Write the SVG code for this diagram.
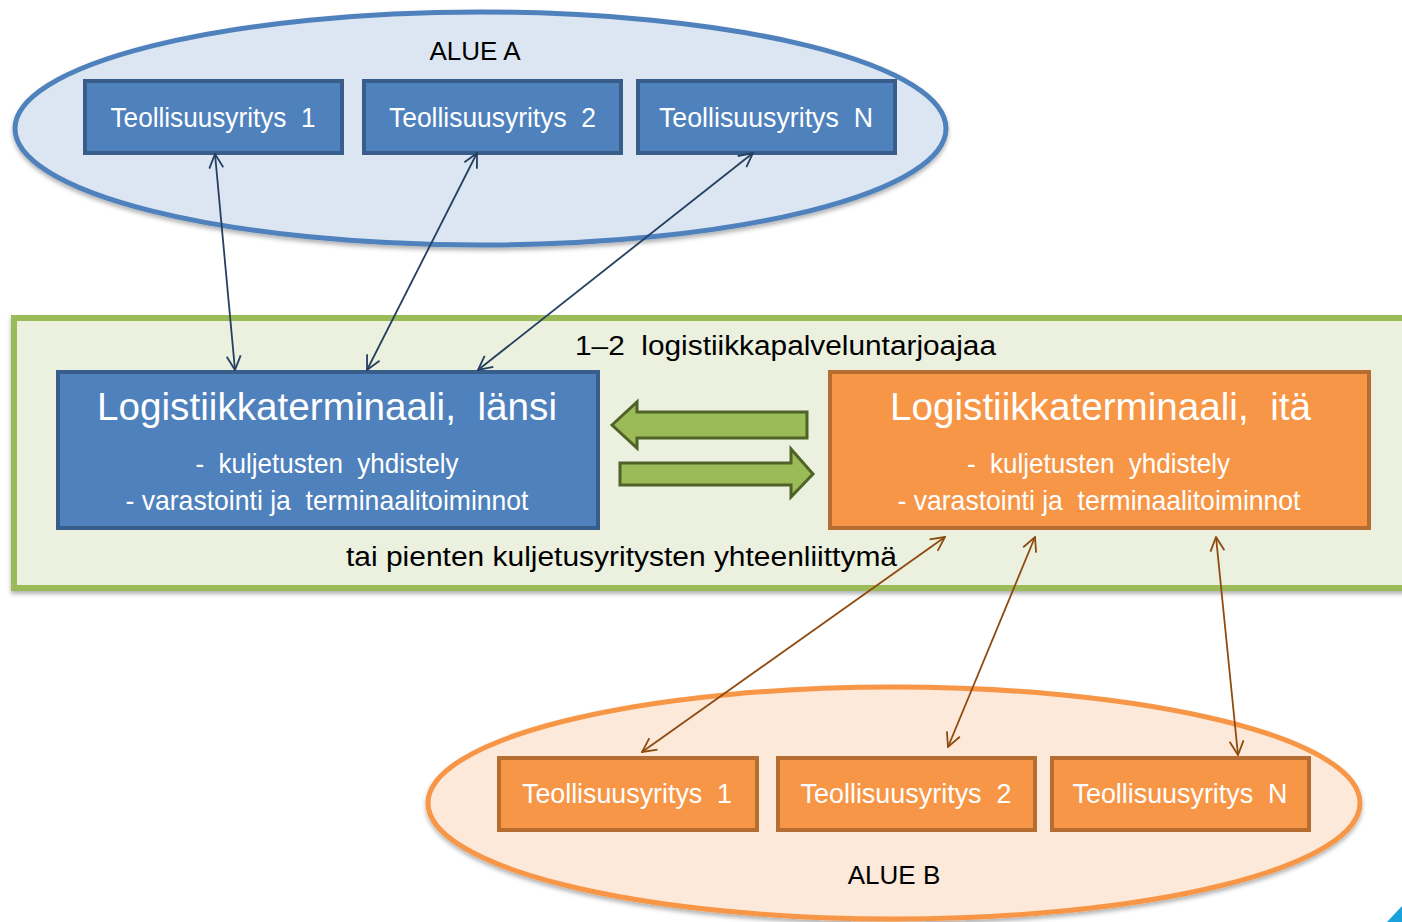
<svg xmlns="http://www.w3.org/2000/svg" width="1402" height="922" viewBox="0 0 1402 922">
<style>
text{font-family:"Liberation Sans",Arial,sans-serif;white-space:pre}
.dark{fill:#000}
.white{fill:#fff}
.bbox{fill:#4f81bd;stroke:#385d8a;stroke-width:4}
.obox{fill:#f79646;stroke:#b66d31;stroke-width:4}
.cA{stroke:#243f60;stroke-width:1.8;fill:none;marker-start:url(#mA);marker-end:url(#mA)}
.cB{stroke:#8e4b10;stroke-width:1.8;fill:none;marker-start:url(#mB);marker-end:url(#mB)}
.garrow{fill:#9bbb59;stroke:#4f6228;stroke-width:3;stroke-linejoin:miter}
</style>
<defs>
<filter id="sh" x="-5%" y="-5%" width="110%" height="115%">
<feDropShadow dx="0" dy="3" stdDeviation="2" flood-color="#000" flood-opacity="0.3"/>
</filter>
<marker id="mA" viewBox="0 0 16 16" refX="15" refY="8" markerWidth="16" markerHeight="16" markerUnits="userSpaceOnUse" orient="auto-start-reverse">
<path d="M1,1 L15,8 L1,15" fill="none" stroke="#243f60" stroke-width="1.8"/>
</marker>
<marker id="mB" viewBox="0 0 16 16" refX="15" refY="8" markerWidth="16" markerHeight="16" markerUnits="userSpaceOnUse" orient="auto-start-reverse">
<path d="M1,1 L15,8 L1,15" fill="none" stroke="#8e4b10" stroke-width="1.8"/>
</marker>
</defs>
<rect width="1402" height="922" fill="#fff"/>

<g id="alueA">
<ellipse cx="480.5" cy="128.5" rx="465.5" ry="116.5" fill="#dce6f2" stroke="#4f81bd" stroke-width="5" filter="url(#sh)"/>
<text x="475" y="60" font-size="26" text-anchor="middle" class="dark">ALUE A</text>
</g>

<g id="a1">
<rect x="85" y="81" width="257" height="72" class="bbox"/>
<text x="213" y="127" font-size="27" text-anchor="middle" class="white" textLength="205" lengthAdjust="spacingAndGlyphs">Teollisuusyritys  1</text>
</g>
<g id="a2">
<rect x="364" y="81" width="257" height="72" class="bbox"/>
<text x="492.5" y="127" font-size="27" text-anchor="middle" class="white" textLength="207" lengthAdjust="spacingAndGlyphs">Teollisuusyritys  2</text>
</g>
<g id="aN">
<rect x="638" y="81" width="257" height="72" class="bbox"/>
<text x="766" y="127" font-size="27" text-anchor="middle" class="white" textLength="214" lengthAdjust="spacingAndGlyphs">Teollisuusyritys  N</text>
</g>

<g id="provider">
<rect x="14" y="318" width="1400" height="270" fill="#ebf1de" stroke="#9bbb59" stroke-width="6" filter="url(#sh)"/>
<text x="575" y="355" font-size="27" class="dark" textLength="421" lengthAdjust="spacingAndGlyphs">1–2  logistiikkapalveluntarjoajaa</text>
<text x="346" y="566" font-size="27" class="dark" textLength="551" lengthAdjust="spacingAndGlyphs">tai pienten kuljetusyritysten yhteenliittymä</text>
</g>

<g id="lansi">
<rect x="58" y="372" width="540" height="156" class="bbox"/>
<text x="327" y="420" font-size="38" text-anchor="middle" class="white" textLength="460" lengthAdjust="spacingAndGlyphs">Logistiikkaterminaali,  länsi</text>
<text x="327" y="473" font-size="28" text-anchor="middle" class="white" textLength="263" lengthAdjust="spacingAndGlyphs">-  kuljetusten  yhdistely</text>
<text x="327" y="510" font-size="28" text-anchor="middle" class="white" textLength="403" lengthAdjust="spacingAndGlyphs">- varastointi ja  terminaalitoiminnot</text>
</g>

<g id="ita">
<rect x="830" y="372" width="539" height="156" class="obox"/>
<text x="1100.5" y="420" font-size="38" text-anchor="middle" class="white" textLength="421" lengthAdjust="spacingAndGlyphs">Logistiikkaterminaali,  itä</text>
<text x="1098.5" y="473" font-size="28" text-anchor="middle" class="white" textLength="263" lengthAdjust="spacingAndGlyphs">-  kuljetusten  yhdistely</text>
<text x="1099" y="510" font-size="28" text-anchor="middle" class="white" textLength="403" lengthAdjust="spacingAndGlyphs">- varastointi ja  terminaalitoiminnot</text>
</g>

<g id="flow-arrows">
<polygon class="garrow" points="612,425 637,402 637,412 807,412 807,438 637,438 637,448"/>
<polygon class="garrow" points="813,474 791,449 791,463 620,463 620,485 791,485 791,497"/>
</g>

<g id="alueB">
<ellipse cx="894" cy="803" rx="466" ry="116" fill="#fde9d9" stroke="#f79646" stroke-width="5" filter="url(#sh)"/>
<text x="894" y="884" font-size="26" text-anchor="middle" class="dark">ALUE B</text>
</g>

<g id="b1">
<rect x="499" y="758" width="258" height="72" class="obox"/>
<text x="627" y="803" font-size="27" text-anchor="middle" class="white" textLength="210" lengthAdjust="spacingAndGlyphs">Teollisuusyritys  1</text>
</g>
<g id="b2">
<rect x="778" y="758" width="257" height="72" class="obox"/>
<text x="906" y="803" font-size="27" text-anchor="middle" class="white" textLength="211" lengthAdjust="spacingAndGlyphs">Teollisuusyritys  2</text>
</g>
<g id="bN">
<rect x="1052" y="758" width="257" height="72" class="obox"/>
<text x="1180" y="803" font-size="27" text-anchor="middle" class="white" textLength="215" lengthAdjust="spacingAndGlyphs">Teollisuusyritys  N</text>
</g>

<g id="connectors">
<line class="cA" x1="215" y1="154" x2="235" y2="370"/>
<line class="cA" x1="477" y1="153" x2="367" y2="370"/>
<line class="cA" x1="753" y1="153" x2="478" y2="370"/>
<line class="cB" x1="945" y1="537" x2="642" y2="752"/>
<line class="cB" x1="1035" y1="537" x2="948" y2="747"/>
<line class="cB" x1="1216" y1="537" x2="1238" y2="755"/>
</g>

<polygon points="1387,922 1402,906 1402,922" fill="#1ba1db"/>
</svg>
